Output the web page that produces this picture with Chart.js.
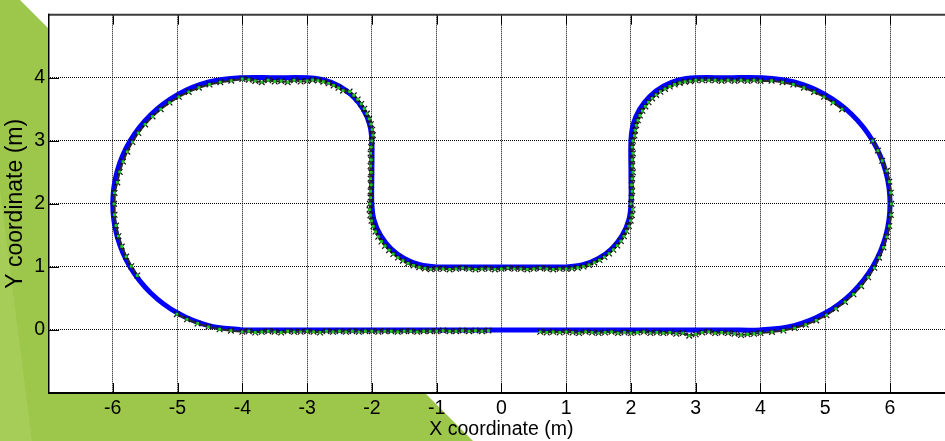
<!DOCTYPE html>
<html>
<head>
<meta charset="utf-8">
<script src="https://cdn.jsdelivr.net/npm/chart.js@4.4.1/dist/chart.umd.min.js"></script>
<style>
html, body { margin: 0; padding: 0; background: #fff; overflow: hidden; }
#wrap { width: 960px; height: 441px; }
</style>
</head>
<body>
<div id="wrap"><canvas id="c" width="960" height="441"></canvas></div>
<script>
// Reference track (m), closed loop starting at the lower left
const refX = [-4, -3.5, 3.5, 4,
  4.518, 5.0, 5.414, 5.732, 5.932, 6, 5.932, 5.732, 5.414, 5.0, 4.518, 4,
  3.5, 3, 2.741, 2.5, 2.293, 2.134, 2.034, 2,
  2, 2, 1.966, 1.866, 1.707, 1.5, 1.259, 1,
  0.5, -0.5, -1, -1.259, -1.5, -1.707, -1.866, -1.966, -2,
  -2, -2, -2.034, -2.134, -2.293, -2.5, -2.741, -3,
  -3.5, -4, -4.518, -5.0, -5.414, -5.732, -5.932, -6, -5.932, -5.732, -5.414, -5.0, -4.518, -4];
const refY = [0, 0, 0, 0,
  0.068, 0.268, 0.586, 1.0, 1.482, 2, 2.518, 3.0, 3.414, 3.732, 3.932, 4,
  4, 4, 3.966, 3.866, 3.707, 3.5, 3.259, 3,
  2.5, 2, 1.741, 1.5, 1.293, 1.134, 1.034, 1,
  1, 1, 1, 1.034, 1.134, 1.293, 1.5, 1.741, 2,
  2.5, 3, 3.259, 3.5, 3.707, 3.866, 3.966, 4,
  4, 4, 3.932, 3.732, 3.414, 3.0, 2.518, 2, 1.482, 1.0, 0.586, 0.268, 0.068, 0];

// Estimated positions (m), grouped by stretch of track
const estLeftArcLower = [
  [-5.010,0.251],[-4.854,0.169],[-4.691,0.102],[-4.523,0.049],[-4.351,0.011],[-4.176,-0.012]];
const estBottomLeft = [
  [-4.0,-0.03],[-3.9,-0.02],[-3.8,-0.04],[-3.7,-0.03],[-3.6,-0.02],[-3.5,-0.03],[-3.4,-0.04],
  [-3.3,-0.02],[-3.2,-0.03],[-3.1,-0.03],[-3.0,-0.02],[-2.9,-0.03],[-2.8,-0.04],[-2.7,-0.02],
  [-2.6,-0.03],[-2.5,-0.02],[-2.4,-0.03],[-2.3,-0.02],[-2.2,-0.03],[-2.1,-0.02],[-2.0,-0.02],
  [-1.9,-0.03],[-1.8,-0.02],[-1.7,-0.02],[-1.6,-0.03],[-1.5,-0.02],[-1.4,-0.02],[-1.3,-0.03],
  [-1.2,-0.02],[-1.1,-0.02],[-1.0,-0.02],[-0.9,-0.01],[-0.8,-0.02],[-0.7,-0.02],[-0.6,-0.01],
  [-0.5,-0.02],[-0.4,-0.01],[-0.3,-0.02],[-0.2,-0.01]];
const estBottomRight = [
  [0.6,-0.03],[0.7,-0.04],[0.8,-0.03],[0.9,-0.04],[1.0,-0.03],[1.1,-0.04],[1.2,-0.05],[1.3,-0.03],
  [1.4,-0.04],[1.5,-0.05],[1.6,-0.04],[1.7,-0.03],[1.8,-0.05],[1.9,-0.04],[2.0,-0.05],[2.1,-0.04],
  [2.2,-0.03],[2.3,-0.05],[2.4,-0.04],[2.5,-0.05],[2.6,-0.04],[2.7,-0.06],[2.8,-0.05],[2.9,-0.09],
  [3.0,-0.07],[3.1,-0.04],[3.2,-0.03],[3.3,-0.05],[3.4,-0.04],[3.5,-0.05],[3.6,-0.06],[3.7,-0.08],
  [3.8,-0.07],[3.9,-0.06],[4.0,-0.05]];
const estRightArcLow = [
  [4.178,-0.032],[4.354,-0.009],[4.528,0.030],[4.698,0.083],[4.862,0.151],[5.020,0.233],
  [5.164,0.337],[5.305,0.445],[5.435,0.565],[5.555,0.695],[5.663,0.836],[5.758,0.985],
  [5.831,1.146],[5.898,1.309],[5.951,1.477],[5.989,1.649],[6.012,1.824],[6.020,2.000],
  [6.012,2.176],[5.989,2.351],[5.951,2.523],[5.879,2.684],[5.813,2.845],[5.732,3.000]];
const estRightArcHigh = [
  [5.260,3.501],[5.124,3.606],[4.980,3.697],[4.828,3.776],[4.670,3.842],[4.507,3.893],
  [4.340,3.930],[4.171,3.953]];
const estTopRight = [
  [4.0,3.95],[3.9,3.96],[3.8,3.95],[3.7,3.96],[3.6,3.95],[3.5,3.96],[3.4,3.95],[3.3,3.96],
  [3.2,3.96],[3.1,3.96],[3.0,3.96],
  [2.917,3.946],[2.835,3.936],[2.754,3.918],[2.675,3.893],[2.599,3.861],[2.525,3.823],
  [2.455,3.778],[2.389,3.728],[2.328,3.672],[2.272,3.611],[2.222,3.545],[2.177,3.475],
  [2.139,3.401],[2.107,3.325],[2.082,3.246],[2.064,3.165],[2.054,3.083],
  [2.03,3.0],[2.02,2.9],[2.03,2.8],[2.02,2.7],[2.02,2.6],[2.03,2.5],[2.02,2.4],[2.01,2.3],
  [2.02,2.2],[2.01,2.1],[2.0,2.0]];
const estMiddle = [
  [2.026,1.910],[2.014,1.821],[1.995,1.733],[1.968,1.648],[1.933,1.565],[1.892,1.485],
  [1.844,1.409],[1.789,1.338],[1.728,1.272],[1.662,1.211],[1.591,1.156],[1.515,1.108],
  [1.435,1.067],[1.352,1.032],[1.267,1.005],[1.179,0.986],[1.090,0.974],
  [1.0,0.97],[0.9,0.97],[0.8,0.96],[0.7,0.97],[0.6,0.98],[0.5,0.97],[0.4,0.96],[0.3,0.97],
  [0.2,0.97],[0.1,0.98],[0.0,0.97],[-0.1,0.96],[-0.2,0.97],[-0.3,0.97],[-0.4,0.96],
  [-0.5,0.97],[-0.6,0.98],[-0.7,0.97],[-0.8,0.96],[-0.9,0.97],[-1.0,0.97],
  [-1.091,0.964],[-1.181,0.976],[-1.269,0.995],[-1.356,1.023],[-1.440,1.057],[-1.520,1.099],
  [-1.597,1.148],[-1.668,1.203],[-1.735,1.265],[-1.797,1.332],[-1.852,1.403],[-1.901,1.480],
  [-1.943,1.560],[-1.977,1.644],[-2.005,1.731],[-2.024,1.819],[-2.036,1.909]];
const estTopLeft = [
  [-2.03,2.0],[-2.02,2.1],[-2.02,2.2],[-2.01,2.3],[-2.02,2.4],[-2.01,2.5],[-2.02,2.6],
  [-2.01,2.7],[-2.02,2.8],[-2.01,2.9],[-2.0,3.0],
  [-1.984,3.089],[-1.995,3.177],[-2.015,3.264],[-2.042,3.349],[-2.076,3.431],[-2.117,3.510],
  [-2.164,3.585],[-2.219,3.656],[-2.279,3.721],[-2.344,3.781],
  [-2.444,3.795],[-2.515,3.840],[-2.590,3.879],[-2.668,3.912],[-2.749,3.937],[-2.832,3.955],
  [-2.915,3.966],
  [-3.0,3.95],[-3.1,3.94],[-3.2,3.96],[-3.3,3.93],[-3.4,3.95],[-3.5,3.94],[-3.6,3.96],
  [-3.7,3.93],[-3.8,3.95],[-3.9,3.97],[-4.0,3.98]];
const estLeftArcUpper = [
  [-4.171,3.953],[-4.340,3.930],[-4.507,3.893],[-4.670,3.842],[-4.828,3.776],[-4.980,3.697],
  [-5.124,3.606],[-5.260,3.501],[-5.386,3.386],[-5.501,3.260],[-5.606,3.124],[-5.697,2.980],
  [-5.776,2.828],[-5.842,2.670],[-5.893,2.507],[-5.930,2.340],
  [-5.973,2.173],[-5.980,2.000],[-5.973,1.827],[-5.950,1.656],[-5.913,1.488],[-5.861,1.323],
  [-5.794,1.163],[-5.715,1.010],[-5.622,0.864]];

const xTicks = [-6, -5, -4, -3, -2, -1, 0, 1, 2, 3, 4, 5, 6];
const yTicks = [0, 1, 2, 3, 4];
const xTitle = 'X coordinate (m)';
const yTitle = 'Y coordinate (m)';

// Continuous runs of the estimate; a null point breaks the trace between runs
const estRuns = [
  [].concat(estLeftArcLower, estBottomLeft),
  [].concat(estBottomRight, estRightArcLow),
  [].concat(estRightArcHigh, estTopRight, estMiddle, estTopLeft, estLeftArcUpper)
];
const refPoints = refX.map((x, i) => ({ x, y: refY[i] }));
const estTrace = [];
estRuns.forEach((run, k) => {
  if (k > 0) estTrace.push({ x: run[0][0], y: null });
  run.forEach(p => estTrace.push({ x: p[0], y: p[1] }));
});
const estPoints = estTrace.filter(p => p.y !== null);

const FONT = 'Liberation Sans, Arial, Helvetica, sans-serif';
Chart.defaults.font.family = FONT;
Chart.defaults.color = '#000';

// Slide backdrop, plot frame and MATLAB-style inward tick marks
const framePlugin = {
  id: 'framePlugin',
  beforeDraw(chart) {
    const { ctx, chartArea: a, width, height } = chart;
    ctx.save();
    ctx.fillStyle = '#fff';
    ctx.fillRect(0, 0, width, height);
    ctx.fillStyle = '#9DC74B';
    ctx.beginPath();
    ctx.moveTo(0, 0);
    ctx.lineTo(20, 0);
    ctx.lineTo(a.left, a.left - 20);
    ctx.lineTo(a.left, a.bottom);
    ctx.lineTo(425, a.bottom);
    ctx.lineTo(425 + (height - a.bottom), height);
    ctx.lineTo(0, height);
    ctx.closePath();
    ctx.fill();
    ctx.fillStyle = '#A6CD58';
    ctx.beginPath();
    ctx.moveTo(0, 190);
    ctx.lineTo(32, height);
    ctx.lineTo(0, height);
    ctx.closePath();
    ctx.fill();
    ctx.fillStyle = '#fff';
    ctx.fillRect(a.left, a.top, a.right - a.left, a.bottom - a.top);
    ctx.restore();
  },
  afterDraw(chart) {
    const { ctx, chartArea: a } = chart;
    const xs = chart.scales.x, ys = chart.scales.y;
    ctx.save();
    ctx.strokeStyle = '#000';
    ctx.lineWidth = 1;
    ctx.beginPath();
    xTicks.forEach(v => {
      const px = Math.round(xs.getPixelForValue(v)) + 0.5;
      ctx.moveTo(px, a.bottom); ctx.lineTo(px, a.bottom - 10);
      ctx.moveTo(px, a.top); ctx.lineTo(px, a.top + 10);
    });
    yTicks.forEach(v => {
      const py = Math.round(ys.getPixelForValue(v)) + 0.5;
      ctx.moveTo(a.left, py); ctx.lineTo(a.left + 11, py);
    });
    ctx.stroke();
    ctx.strokeStyle = '#3C3C3C';
    ctx.lineWidth = 2;
    ctx.beginPath();
    ctx.moveTo(a.left, a.top); ctx.lineTo(a.right, a.top);
    ctx.stroke();
    ctx.strokeStyle = '#000';
    ctx.beginPath();
    ctx.moveTo(a.left, a.bottom); ctx.lineTo(a.right, a.bottom);
    ctx.stroke();
    ctx.lineWidth = 1.5;
    ctx.beginPath();
    ctx.moveTo(a.left + 0.75, a.top - 1); ctx.lineTo(a.left + 0.75, a.bottom + 1);
    ctx.stroke();
    ctx.restore();
  }
};

const gridColor = (edgeA, edgeB) => c =>
  (c.tick && (c.tick.value === edgeA || c.tick.value === edgeB)) ? 'rgba(0,0,0,0)' : '#000';

new Chart(document.getElementById('c'), {
  type: 'scatter',
  data: {
    datasets: [
      {
        label: 'reference',
        data: refPoints,
        showLine: true,
        borderColor: '#0000FF',
        borderWidth: 5,
        borderJoinStyle: 'round',
        pointRadius: 0,
        tension: 0.35,
        fill: false,
        order: 3
      },
      {
        label: 'estimate trace',
        data: estTrace,
        showLine: true,
        spanGaps: false,
        borderColor: '#2A2A2A',
        borderWidth: 2,
        pointRadius: 0,
        tension: 0,
        fill: false,
        order: 2
      },
      {
        label: 'estimate marks',
        data: estPoints,
        showLine: false,
        pointStyle: 'crossRot',
        pointRadius: 4,
        pointBorderWidth: 1.2,
        pointBorderColor: '#111',
        pointBackgroundColor: '#111',
        order: 1
      },
      {
        label: 'estimate',
        data: estPoints,
        showLine: false,
        pointStyle: 'rect',
        pointRadius: 2,
        pointBorderWidth: 0,
        pointBackgroundColor: '#22C422',
        order: 0
      }
    ]
  },
  options: {
    responsive: false,
    animation: false,
    devicePixelRatio: 1,
    layout: { padding: { top: 8, right: 5, left: 0, bottom: 0 } },
    plugins: { legend: { display: false }, tooltip: { enabled: false } },
    scales: {
      x: {
        type: 'linear',
        min: -7, max: 7,
        afterFit: s => { s.height = 48; },
        afterBuildTicks: s => { s.ticks = [-7].concat(xTicks, [7]).map(v => ({ value: v })); },
        ticks: {
          font: { size: 19.5 },
          padding: 4,
          callback: v => xTicks.includes(v) ? String(v) : ''
        },
        grid: { color: gridColor(-7, 7), lineWidth: 1, drawTicks: false },
        border: { display: false, dash: [1, 1] },
        title: { display: true, text: xTitle, font: { size: 19.5 }, padding: { top: 0, bottom: 0 } }
      },
      y: {
        type: 'linear',
        min: -1, max: 5,
        afterFit: s => { s.width = 48; },
        afterBuildTicks: s => { s.ticks = [-1].concat(yTicks, [5]).map(v => ({ value: v })); },
        ticks: {
          font: { size: 19.5 },
          padding: 3,
          callback: v => yTicks.includes(v) ? String(v) : ''
        },
        grid: { color: gridColor(-1, 5), lineWidth: 1, drawTicks: false },
        border: { display: false, dash: [1, 1] },
        title: { display: true, text: yTitle, font: { size: 23 }, padding: { top: 2, bottom: 0 } }
      }
    }
  },
  plugins: [framePlugin]
});
</script>
</body>
</html>
